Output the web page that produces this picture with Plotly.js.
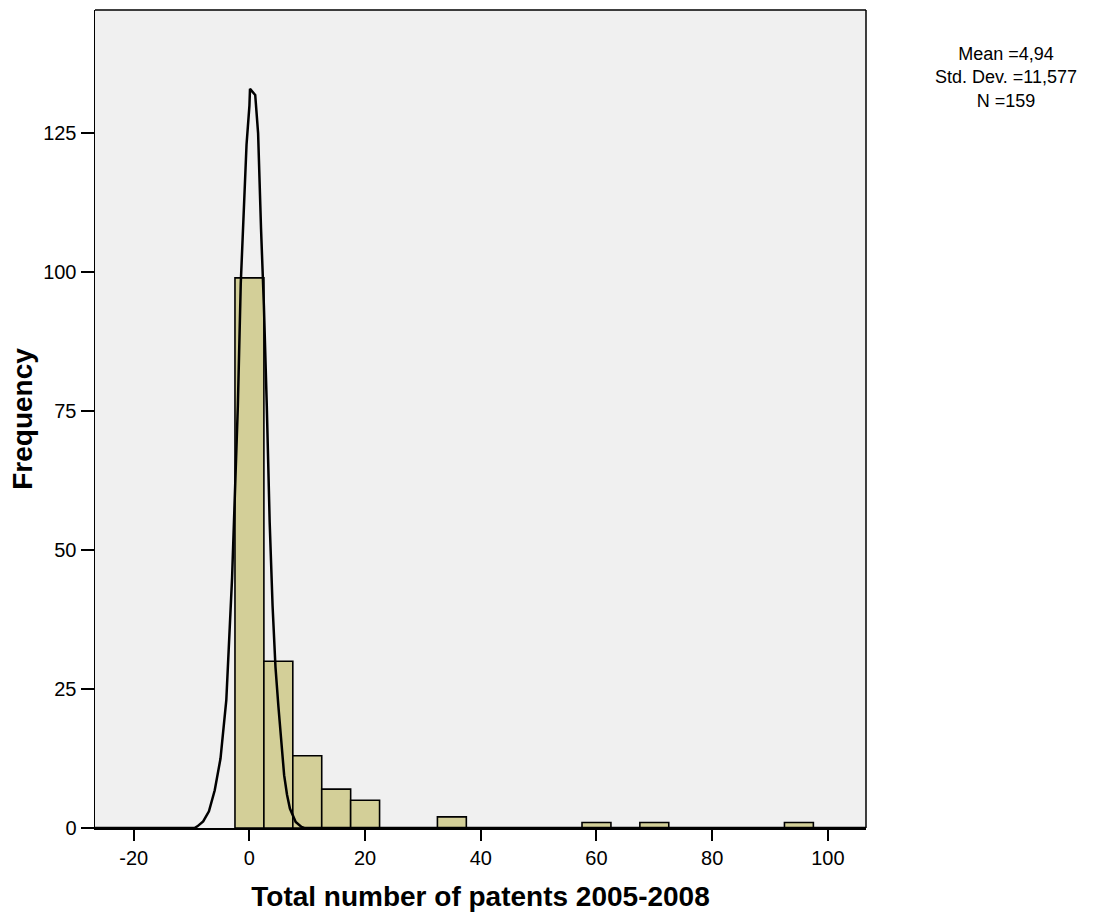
<!DOCTYPE html>
<html>
<head>
<meta charset="utf-8">
<script src="https://cdn.plot.ly/plotly-3.0.1.min.js"></script>
<style>html,body{margin:0;padding:0;background:#fff;}#chart{width:1097px;height:921px;}</style>
</head>
<body>
<div id="chart"></div>
<script>
// Histogram bins (centre of each 5-wide bin) and frequencies
const binCenters = [0, 5, 10, 15, 20, 35, 60, 70, 95];
const counts = [99, 30, 13, 7, 5, 2, 1, 1, 1];
const binWidth = 5;

// Normal curve as drawn
const curveX = [-26.7, -10, -9.5, -9, -8, -7, -6, -5, -4, -3, -2, -1.5, -1, -0.5, 0, 0.1, 1, 1.5, 2, 2.5, 3, 3.5, 4, 4.5, 5, 5.5, 6, 6.5, 7, 8, 9, 9.5, 10, 106.6];
const curveY = [0, 0, 0, 0.3, 1.2, 3.0, 6.8, 12.5, 23, 45, 76, 98, 110, 123, 130, 133, 131.9, 125, 108, 94, 76, 55, 40, 29, 22, 15, 9.5, 6, 3.5, 1.1, 0.2, 0, 0, 0];

const xTicks = [-20, 0, 20, 40, 60, 80, 100];
const yTicks = [0, 25, 50, 75, 100, 125];
const statsLines = ["Mean =4,94", "Std. Dev. =11,577", "N =159"];

const font = "Liberation Sans, Arial, sans-serif";

const traces = [
  {
    type: "bar",
    x: binCenters,
    y: counts,
    width: binCenters.map(() => binWidth),
    marker: {color: "#d3cf98", line: {color: "#000", width: 1.6}},
    showlegend: false
  },
  {
    type: "scatter",
    mode: "lines",
    x: curveX,
    y: curveY,
    line: {color: "#000", width: 2.5},
    showlegend: false,
    cliponaxis: false
  }
];

const layout = {
  width: 1097,
  height: 921,
  margin: {l: 95, r: 231, t: 10, b: 93, pad: 0},
  paper_bgcolor: "#fff",
  plot_bgcolor: "#f0f0f0",
  bargap: 0,
  showlegend: false,
  font: {family: font, color: "#000", size: 20},
  xaxis: {
    range: [-26.7, 106.6],
    tickvals: xTicks,
    ticktext: xTicks.map(String),
    ticks: "outside",
    ticklen: 11,
    tickwidth: 2,
    tickcolor: "#000",
    showgrid: false,
    zeroline: false,
    showline: true,
    linecolor: "#000",
    linewidth: 2,
    tickfont: {family: font, size: 20, color: "#000"},
    title: {text: "Total number of patents 2005-2008", font: {family: font, size: 28, color: "#000", weight: "bold"}, standoff: 18}
  },
  yaxis: {
    range: [0, 147.2],
    tickvals: yTicks,
    ticktext: yTicks.map(String),
    ticks: "outside",
    ticklen: 13,
    tickwidth: 2,
    tickcolor: "#000",
    showgrid: false,
    zeroline: false,
    showline: true,
    linecolor: "#000",
    linewidth: 1.5,
    tickfont: {family: font, size: 20, color: "#000"},
    title: {text: "Frequency", font: {family: font, size: 28, color: "#000", weight: "bold"}, standoff: 2}
  },
  shapes: [
    {type: "line", xref: "paper", yref: "paper", x0: 0, x1: 1, y0: 1, y1: 1, line: {color: "#000", width: 1.5}},
    {type: "line", xref: "paper", yref: "paper", x0: 1, x1: 1, y0: 0, y1: 1, line: {color: "#000", width: 1.5}}
  ],
  annotations: [{
    xref: "paper", yref: "paper",
    x: 1.1816, y: 0.9169,
    xanchor: "center", yanchor: "middle",
    text: statsLines.join("<br>"),
    align: "center",
    showarrow: false,
    font: {family: font, size: 18, color: "#000"}
  }]
};

Plotly.newPlot("chart", traces, layout, {displayModeBar: false, staticPlot: true});
</script>
</body>
</html>
